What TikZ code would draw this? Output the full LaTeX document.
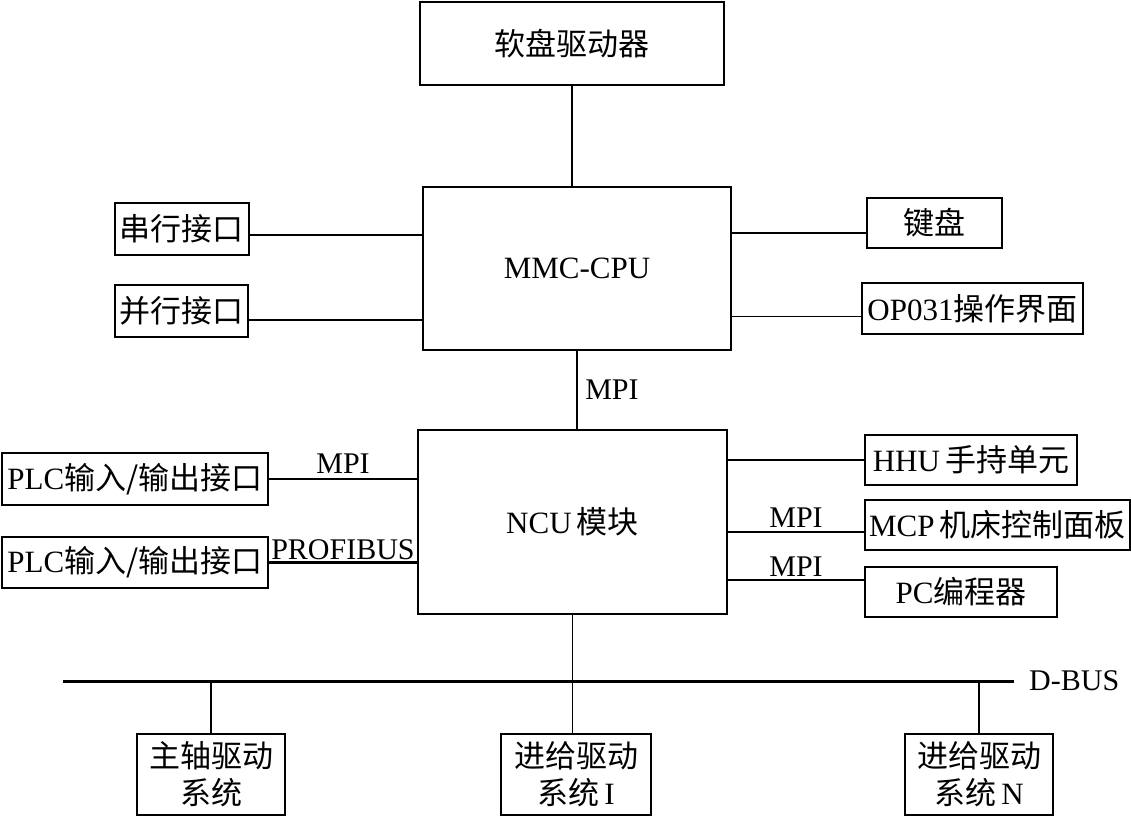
\documentclass[tikz,border=0pt]{standalone}
\usepackage{fontspec}
\setmainfont{Liberation Serif}
\newfontfamily\cjk{Noto Sans CJK SC}
\usetikzlibrary{calc}

\tikzset{
  box/.style={draw, line width=2pt, inner sep=0pt, align=center, font=\fontsize{31}{37}\selectfont},
  link/.style={line width=1.8pt},
  heavy/.style={line width=2.6pt},
  tag/.style={inner sep=1pt, font=\fontsize{30}{34}\selectfont}
}

\begin{document}
\begin{tikzpicture}[x=1pt, y=-1pt]
\useasboundingbox (0,0) rectangle (1131,816);

% upper part: MMC
\node[box, minimum width=304pt, minimum height=83pt] (floppy) at (572,43.5) {\cjk 软盘驱动器};
\node[box, minimum width=308pt, minimum height=163pt] (mmc) at (577,268.5) {MMC-CPU};
\node[box, minimum width=134pt, minimum height=52pt] (serial) at (181.5,229) {\cjk 串行接口};
\node[box, minimum width=133pt, minimum height=52pt] (parallel) at (181.5,311) {\cjk 并行接口};
\node[box, minimum width=135pt, minimum height=50pt] (keyboard) at (934.5,223) {\cjk 键盘};
\node[box, minimum width=221pt, minimum height=51pt] (panel) at (972.5,308.5) {OP031{\cjk 操作界面}};

% middle part: NCU
\node[box, minimum width=309pt, minimum height=184pt] (ncu) at (572.5,522) {NCU\,{\cjk 模块}};
\node[box, minimum width=266pt, minimum height=52pt] (plcA) at (135,479) {PLC{\cjk 输入/输出接口}};
\node[box, minimum width=266pt, minimum height=51pt] (plcB) at (135,562.5) {PLC{\cjk 输入/输出接口}};
\node[box, minimum width=212pt, minimum height=50pt] (hhu) at (971,460) {HHU\,{\cjk 手持单元}};
\node[box, minimum width=265pt, minimum height=50pt] (mcp) at (997.5,525) {MCP\,{\cjk 机床控制面板}};
\node[box, minimum width=192pt, minimum height=50pt] (pcprog) at (961,592) {PC{\cjk 编程器}};

% lower part: drives
\node[box, minimum width=148pt, minimum height=81pt] (spindle) at (211,774.5) {\cjk 主轴驱动\\\cjk 系统};
\node[box, minimum width=150pt, minimum height=81pt] (feedA) at (576,774.5) {\cjk 进给驱动\\{\cjk 系统}\,I};
\node[box, minimum width=148pt, minimum height=81pt] (feedN) at (979,774.5) {\cjk 进给驱动\\{\cjk 系统}\,N};

\coordinate (busL) at (63,681);
\coordinate (busR) at (1014,681);
\node[tag, anchor=west] (dbus) at ([xshift=14pt]busR) {D-BUS};

% connectors
\draw[link] (floppy.south) -- (floppy.south |- mmc.north);
\draw[link] ([yshift=-6pt]serial.east) -- ([yshift=-6pt]serial.east -| mmc.west);
\draw[heavy] ([yshift=-9pt]parallel.east) -- ([yshift=-9pt]parallel.east -| mmc.west);
\draw[link] ([yshift=-10pt]keyboard.west) -- ([yshift=-10pt]keyboard.west -| mmc.east);
\draw[link] ([yshift=-8pt]panel.west) -- ([yshift=-8pt]panel.west -| mmc.east);
\draw[heavy] (mmc.south) -- node[tag, right=6pt] (mpiA) {MPI} (mmc.south |- ncu.north);

\draw[link] (plcA.east) -- node[tag, above=4pt] (mpiB) {MPI} (plcA.east -| ncu.west);
\draw[heavy] (plcB.east) -- node[tag, above=0pt] (profibus) {PROFIBUS} (plcB.east -| ncu.west);
\draw[link] (hhu.west) -- (hhu.west -| ncu.east);
\draw[heavy] ([yshift=-7pt]mcp.west) -- node[tag, above=2pt] (mpiC) {MPI} ([yshift=-7pt]mcp.west -| ncu.east);
\draw[link] ([yshift=12pt]pcprog.west) -- node[tag, above=2pt] (mpiD) {MPI} ([yshift=12pt]pcprog.west -| ncu.east);

\draw[line width=3pt] (busL) -- (busR);
\draw[link] (ncu.south) -- (ncu.south |- feedA.north);
\draw[link] (spindle.north) -- (spindle.north |- busL);
\draw[link] (feedN.north) -- (feedN.north |- busL);
\end{tikzpicture}
\end{document}
